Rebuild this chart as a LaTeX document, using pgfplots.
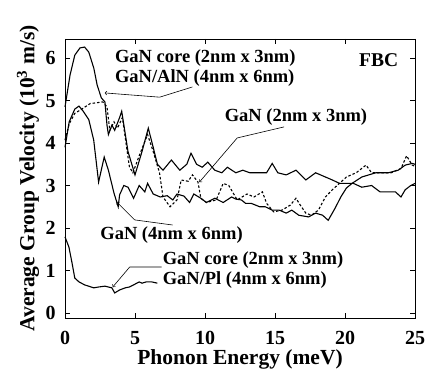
\documentclass[border=0pt]{standalone}
\usepackage{fontspec}
\setmainfont{Liberation Serif}
\usepackage{pgfplots}
\pgfplotsset{compat=1.18}
\begin{document}
\bfseries\fontsize{18.5bp}{20bp}\selectfont
\begin{tikzpicture}
\path[use as bounding box] (-65bp,-68bp) rectangle (362bp,318bp);
\begin{axis}[
  scale only axis, width=350bp, height=279bp,
  xmin=0, xmax=25, ymin=-0.12, ymax=6.45,
  xtick={0,5,10,15,20,25}, ytick={0,1,2,3,4,5,6},
  tick align=inside, tick pos=both,
  major tick length=5bp,
  /pgf/number format/assume math mode=true,
  tick label style={font=\bfseries\fontsize{20bp}{22bp}\selectfont},
  xticklabel style={yshift=-7bp},
  yticklabel style={xshift=-3bp},
  axis line style={line width=0.8pt},
  tick style={line width=0.8pt, black},
  xlabel={Phonon Energy (meV)},
  ylabel={Average Group Velocity (10\textsuperscript{3} m/s)},
  label style={font=\bfseries\fontsize{21.5bp}{24bp}\selectfont},
  ylabel style={at={(axis description cs:-0.106,0.5)}, anchor=center},
  xlabel style={at={(axis description cs:0.5,-0.148)}, anchor=center},
  clip=false,
]
% GaN core (2x3) / GaN/AlN (4x6)
\addplot[black, line width=1.1pt] coordinates {
(0,4.85)(0.36,5.6)(0.7,6.07)(1.07,6.24)(1.4,6.26)(1.7,6.14)(2.06,5.76)(2.3,5.36)(2.6,5.06)(2.85,4.97)(3.0,4.42)(3.1,4.2)(3.35,4.42)(3.55,4.3)(3.9,4.6)(4.05,4.75)(4.5,3.8)(5.0,3.25)(5.5,3.8)(5.95,4.35)(6.3,3.9)(6.6,3.5)(7.0,3.36)(7.6,3.6)(8.2,3.36)(8.7,3.5)(9.0,3.76)(9.4,3.5)(9.8,3.43)(10.2,3.55)(10.7,3.36)(11.2,3.3)(11.6,3.43)(12.2,3.3)(12.7,3.36)(13.2,3.3)(14.4,3.3)(14.8,3.52)(15.2,3.3)(15.8,3.25)(16.5,3.36)(17.2,3.13)(17.9,3.3)(18.6,3.2)(19.1,3.13)(19.6,3.05)(20.1,3.05)(20.6,3.05)(21.2,2.96)(21.9,3.0)(22.5,2.85)(23.6,2.85)(24.0,2.73)(24.3,2.9)(24.7,3.0)(25,3.05)
};
% GaN (2x3) dashed
\addplot[black, line width=1.1pt, dash pattern=on 2.5pt off 2pt] coordinates {
(0,4.07)(0.3,4.45)(0.7,4.7)(1.2,4.8)(1.8,4.93)(2.3,4.95)(2.7,4.97)(3.0,4.85)(3.2,4.3)(3.5,4.5)(3.75,4.35)(4.1,4.6)(4.6,3.44)(4.85,3.3)(5.3,3.7)(5.9,4.2)(6.3,3.8)(6.75,3.3)(7.0,2.73)(7.5,2.5)(8.0,2.66)(8.3,3.13)(8.8,3.1)(9.1,3.25)(9.5,3.08)(9.7,2.7)(10.1,2.6)(10.8,2.66)(11.3,3.05)(11.7,3.0)(12.3,2.66)(13.0,2.8)(13.5,2.73)(14.1,2.85)(14.4,2.58)(14.9,2.38)(15.5,2.42)(16.1,2.54)(16.5,2.7)(16.8,2.54)(17.2,2.35)(17.6,2.3)(18.1,2.42)(18.6,2.73)(19.1,2.9)(19.6,3.05)(20.1,3.2)(20.8,3.3)(21.5,3.48)(21.9,3.3)(22.4,3.3)(23.3,3.3)(24.0,3.4)(24.4,3.7)(24.8,3.48)(25,3.45)
};
% GaN (4x6)
\addplot[black, line width=1.1pt] coordinates {
(0,3.9)(0.3,4.5)(0.7,4.8)(1.0,4.87)(1.3,4.75)(1.7,4.55)(2.05,4.07)(2.4,3.08)(2.8,3.67)(3.1,3.36)(3.5,2.82)(3.8,2.5)(3.9,2.78)(4.2,3.0)(4.5,2.96)(4.9,2.7)(5.3,3.0)(5.7,2.85)(5.9,3.05)(6.3,2.8)(6.8,2.73)(7.3,2.76)(7.7,2.66)(8.0,2.8)(8.5,2.75)(8.9,2.6)(9.2,2.8)(9.7,2.7)(10.1,2.6)(10.7,2.7)(11.3,2.6)(11.9,2.73)(12.2,2.68)(12.6,2.66)(12.9,2.58)(13.3,2.58)(13.9,2.5)(14.3,2.5)(14.8,2.42)(15.3,2.42)(15.8,2.35)(16.2,2.42)(16.7,2.3)(17.4,2.26)(17.9,2.35)(18.4,2.3)(18.8,2.18)(19.3,2.47)(19.7,2.73)(20.1,2.94)(20.5,3.05)(21.2,3.2)(22.2,3.3)(23.1,3.3)(23.8,3.36)(24.3,3.48)(24.8,3.52)(25,3.5)
};
% GaN core (2x3) / GaN/Pl (4x6)
\addplot[black, line width=1.1pt] coordinates {
(0,1.79)(0.28,1.55)(0.5,1.18)(0.7,0.82)(1.0,0.73)(1.4,0.66)(2.05,0.59)(2.4,0.61)(2.85,0.63)(3.35,0.59)(3.55,0.47)(3.9,0.54)(4.3,0.59)(4.6,0.61)(4.9,0.66)(5.3,0.73)(5.5,0.7)(5.8,0.73)(6.2,0.73)(6.6,0.7)
};
% annotations
\node[anchor=west, align=left, inner sep=0pt] at (axis cs:3.56,5.76) {GaN core (2nm x 3nm)\\GaN/AlN (4nm x 6nm)};
\draw[->, line width=0.6pt] (axis cs:9.1,5.32) -- (axis cs:6.76,5.08) -- (axis cs:2.84,5.18);
\node[font=\bfseries\fontsize{19.5bp}{22bp}\selectfont] at (axis cs:22.4,5.95) {FBC};
\node at (axis cs:16.5,4.61) {GaN (2nm x 3nm)};
\draw[->, line width=0.6pt] (axis cs:15.65,4.38) -- (axis cs:12.3,4.12) -- (axis cs:9.6,3.08);
\node at (axis cs:7.61,1.84) {GaN (4nm x 6nm)};
\draw[->, line width=0.6pt] (axis cs:7.68,2.07) -- (axis cs:4.98,2.19) -- (axis cs:3.7,2.61);
\node[anchor=west, align=left, inner sep=0pt] at (axis cs:6.97,1.01) {GaN core (2nm x 3nm)\\GaN/Pl (4nm x 6nm)};
\draw[->, line width=0.6pt] (axis cs:6.9,1.08) -- (axis cs:4.62,1.08) -- (axis cs:3.41,0.61);
\end{axis}
\end{tikzpicture}
\end{document}
